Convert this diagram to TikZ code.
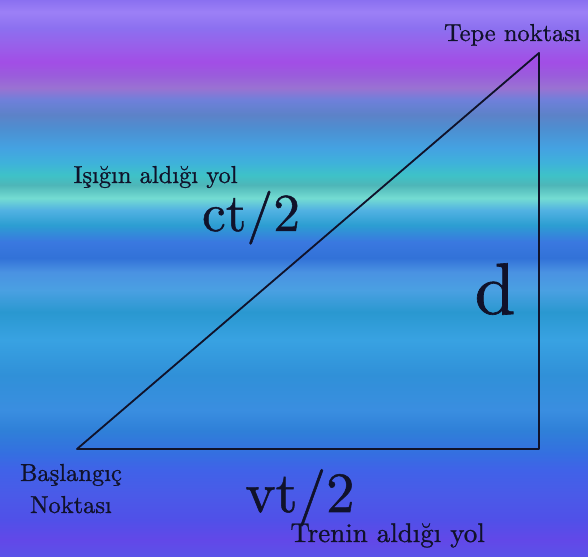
\documentclass[tikz,border=0pt]{standalone}
\usepackage{fontspec}
\setmainfont{lmroman10-regular}[Extension=.otf,FakeBold=0.9]
\usepackage{tikz}
\usepackage{color}

\definecolor{ink}{HTML}{10122A}
\definecolor{bga}{HTML}{5A52E8}
\definecolor{bgb}{HTML}{6248E8}
\definecolor{bgc}{HTML}{5050E8}
\definecolor{bgd}{HTML}{4A5AE8}
\definecolor{bge}{HTML}{4062E8}
\definecolor{bgf}{HTML}{3470E0}
\definecolor{bgg}{HTML}{2F80D8}
\definecolor{bgh}{HTML}{3A8EE0}
\definecolor{bgi}{HTML}{3090D8}
\definecolor{bgj}{HTML}{38A2E2}
\definecolor{bgk}{HTML}{2A98D0}
\definecolor{bgl}{HTML}{4AA0E2}
\definecolor{bgm}{HTML}{4A92E2}
\definecolor{bgn}{HTML}{3272D8}
\definecolor{bgo}{HTML}{3A78E0}
\definecolor{bgp}{HTML}{2C9ED2}
\definecolor{bgq}{HTML}{52B2E2}
\definecolor{bgr}{HTML}{74DCD2}
\definecolor{bgs}{HTML}{4EB6B8}
\definecolor{bgt}{HTML}{3EC2C8}
\definecolor{bgu}{HTML}{3EB2DA}
\definecolor{bgv}{HTML}{44A2E2}
\definecolor{bgw}{HTML}{4C90D2}
\definecolor{bgx}{HTML}{5C82C8}
\definecolor{bgy}{HTML}{6E80DA}
\definecolor{bgz}{HTML}{9A72D2}
\definecolor{bgA}{HTML}{9A5CDC}
\definecolor{bgB}{HTML}{A24EE6}
\definecolor{bgC}{HTML}{9860EA}
\definecolor{bgD}{HTML}{8C70F0}
\definecolor{bgE}{HTML}{9C80F6}
\definecolor{bgF}{HTML}{8A70F0}

\pgfdeclareverticalshading{stripes}{100bp}{color(0bp)=(bga); color(25bp)=(bga);
 color(26.54bp)=(bgb); color(28.34bp)=(bgc); color(30.57bp)=(bgd); color(32.81bp)=(bge);
 color(34.42bp)=(bgf); color(36.40bp)=(bgg); color(38.19bp)=(bgh); color(41.33bp)=(bgi);
 color(44.48bp)=(bgj); color(46.99bp)=(bgk); color(48.97bp)=(bgl); color(50.58bp)=(bgm);
 color(51.84bp)=(bgn); color(53.28bp)=(bgo); color(54.80bp)=(bgp); color(56.15bp)=(bgq);
 color(57.22bp)=(bgr); color(58.39bp)=(bgs); color(59.29bp)=(bgt); color(60.37bp)=(bgu);
 color(61.71bp)=(bgv); color(63.33bp)=(bgw); color(64.68bp)=(bgx); color(66.02bp)=(bgy);
 color(67.10bp)=(bgz); color(68.27bp)=(bgA); color(69.43bp)=(bgB); color(70.96bp)=(bgC);
 color(72.49bp)=(bgD); color(73.92bp)=(bgE); color(75bp)=(bgF); color(100bp)=(bgF)}

\tikzset{
  lbl/.style={text=ink,anchor=base,inner sep=0pt,font=\fontsize{17.4}{22.8}\selectfont},
  big/.style={text=ink,anchor=base,inner sep=0pt,font=\fontsize{#1}{#1}\selectfont}
}

\begin{document}
\begin{tikzpicture}
\useasboundingbox (0,0) rectangle (14.7,13.925);
\shade[shading=stripes] (0,0) rectangle (14.7,13.925);

\coordinate (start) at (1.925,2.7);
\coordinate (corner) at (13.475,2.7);
\coordinate (top) at (13.475,12.6);
\draw[ink,line width=1.3pt,line join=round] (start) -- (corner) -- (top) -- cycle;

\node[lbl] (tepe) at (12.81,12.9) {Tepe noktası};
\node[lbl] (isik) at (3.89,9.35) {Işığın aldığı yol};
\node[lbl,align=center] (basla) at (1.775,1.1) {Başlangıç\\Noktası};
\node[lbl,font=\fontsize{19.2}{22}\selectfont] (tren) at (9.69,0.375) {Trenin aldığı yol};
\node[big=38] (ct) at (6.275,8.15) {ct/2};
\node[big=40.5] (vt) at (7.5,1.125) {vt/2};
\node[big=52] (d) at (12.375,6.075) {d};
%\draw (start) circle [radius=0.2];

\end{tikzpicture}
\end{document}
